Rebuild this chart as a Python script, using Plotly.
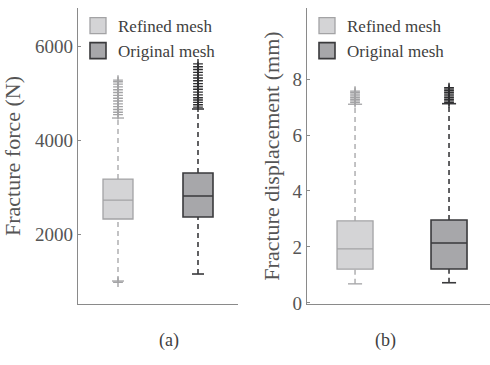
import plotly.graph_objects as go

# ---- summary statistics (panel a: fracture force, N) ----
force_q1 = [2320, 2362]
force_median = [2723, 2809]
force_q3 = [3170, 3298]
force_low = [1000, 1149]
force_high = [4468, 4660]
force_out_refined = [975, 4540, 4590, 4650, 4710, 4770, 4830, 4890, 4950,
                     5010, 5070, 5130, 5190, 5240, 5275]
force_out_original = [4700, 4750, 4800, 4850, 4900, 4960, 5020, 5080, 5140, 5200,
                      5260, 5320, 5380, 5440, 5500, 5560, 5620]

# ---- summary statistics (panel b: fracture displacement, mm) ----
disp_q1 = [1.21, 1.21]
disp_median = [1.93, 2.14]
disp_q3 = [2.93, 2.96]
disp_low = [0.68, 0.72]
disp_high = [7.10, 7.12]
disp_out_refined = [7.16, 7.22, 7.28, 7.34, 7.40, 7.46, 7.52, 7.57]
disp_out_original = [7.16, 7.22, 7.28, 7.34, 7.40, 7.46, 7.52, 7.58, 7.64, 7.69]

groups = ["Refined mesh", "Original mesh"]
positions = [1, 2]

FONT = "Liberation Serif"
fills = ["#d4d4d6", "#a7a7aa"]
edges = ["#a3a3a5", "#3a3a3c"]
edge_w = [1.3, 1.6]
out_colors = ["#a3a3a5", "#2e2e30"]

fig = go.Figure()


def add_panel(xa, ya, q1, med, q3, lo, hi, outs, width, cap):
    for i in range(2):
        x = positions[i]
        # box body (fences collapsed onto the quartiles; whiskers drawn dashed below)
        fig.add_trace(go.Box(
            x=[x], q1=[q1[i]], median=[med[i]], q3=[q3[i]],
            lowerfence=[q1[i]], upperfence=[q3[i]],
            width=width, whiskerwidth=0,
            fillcolor=fills[i], line=dict(color=edges[i], width=edge_w[i]),
            showlegend=False, hoverinfo="skip", xaxis=xa, yaxis=ya,
        ))
        # dashed whiskers
        for a, b in ((q3[i], hi[i]), (lo[i], q1[i])):
            fig.add_trace(go.Scatter(
                x=[x, x], y=[a, b], mode="lines",
                line=dict(color=edges[i], width=edge_w[i], dash="5px,4px"),
                showlegend=False, hoverinfo="skip", xaxis=xa, yaxis=ya,
            ))
        # whisker caps
        for v in (lo[i], hi[i]):
            fig.add_trace(go.Scatter(
                x=[x - cap, x + cap], y=[v, v], mode="lines",
                line=dict(color=edges[i], width=edge_w[i]),
                showlegend=False, hoverinfo="skip", xaxis=xa, yaxis=ya,
            ))
        # outliers
        fig.add_trace(go.Scatter(
            x=[x] * len(outs[i]), y=outs[i], mode="markers",
            marker=dict(symbol="cross-thin", size=7,
                        line=dict(color=out_colors[i], width=1.4)),
            showlegend=False, hoverinfo="skip", xaxis=xa, yaxis=ya,
        ))


add_panel("x", "y", force_q1, force_median, force_q3, force_low, force_high,
          [force_out_refined, force_out_original], 0.375, 0.075)
add_panel("x2", "y2", disp_q1, disp_median, disp_q3, disp_low, disp_high,
          [disp_out_refined, disp_out_original], 0.383, 0.075)

# legend entries for each panel
for leg, xa, ya in (("legend", "x", "y"), ("legend2", "x2", "y2")):
    for i in range(2):
        fig.add_trace(go.Scatter(
            x=[None], y=[None], mode="markers", name=groups[i],
            marker=dict(symbol="square", size=16, color=fills[i],
                        line=dict(color=edges[i], width=edge_w[i])),
            legend=leg, xaxis=xa, yaxis=ya,
        ))

axis_color = "#8a8a8a"
tick_font = dict(family=FONT, size=19, color="#555555")
title_font = dict(family=FONT, size=22, color="#555555")

common_y = dict(showline=True, linecolor=axis_color, linewidth=1.2,
                ticks="inside", ticklen=3, tickcolor=axis_color,
                showgrid=False, zeroline=False, tickfont=tick_font)
common_x = dict(showline=True, linecolor=axis_color, linewidth=1.2,
                showticklabels=False, ticks="", showgrid=False, zeroline=False)

label_y = -(353 - 304) / 296

fig.update_layout(
    width=490, height=365,
    margin=dict(l=0, r=0, t=8, b=61),
    paper_bgcolor="white", plot_bgcolor="white",
    font=dict(family=FONT, color="#404040"),
    xaxis=dict(domain=[78 / 490, 238 / 490], range=[0.5, 2.5], **common_x),
    yaxis=dict(range=[511, 6809], tickvals=[2000, 4000, 6000],
               title=dict(text="Fracture force (N)", font=title_font, standoff=8),
               **common_y),
    xaxis2=dict(domain=[307 / 490, 1.0], range=[0.489, 2.436], anchor="y2", **common_x),
    yaxis2=dict(range=[-0.04, 10.54], tickvals=[0, 2, 4, 6, 8], anchor="x2",
                title=dict(text="Fracture displacement (mm)", font=title_font, standoff=6),
                **common_y),
    legend=dict(x=78 / 490, y=1.0, xanchor="left", yanchor="top",
                bgcolor="rgba(0,0,0,0)", font=dict(family=FONT, size=17, color="#404040"),
                tracegroupgap=0, itemwidth=30),
    legend2=dict(x=307 / 490, y=1.0, xanchor="left", yanchor="top",
                 bgcolor="rgba(0,0,0,0)", font=dict(family=FONT, size=17, color="#404040"),
                 tracegroupgap=0, itemwidth=30),
    annotations=[
        dict(text="(a)", x=157 / 490, y=label_y, xref="paper", yref="paper",
             showarrow=False, font=dict(family=FONT, size=18, color="#404040")),
        dict(text="(b)", x=398 / 490, y=label_y, xref="paper", yref="paper",
             showarrow=False, font=dict(family=FONT, size=18, color="#404040")),
    ],
)

fig.write_html("out.html")
